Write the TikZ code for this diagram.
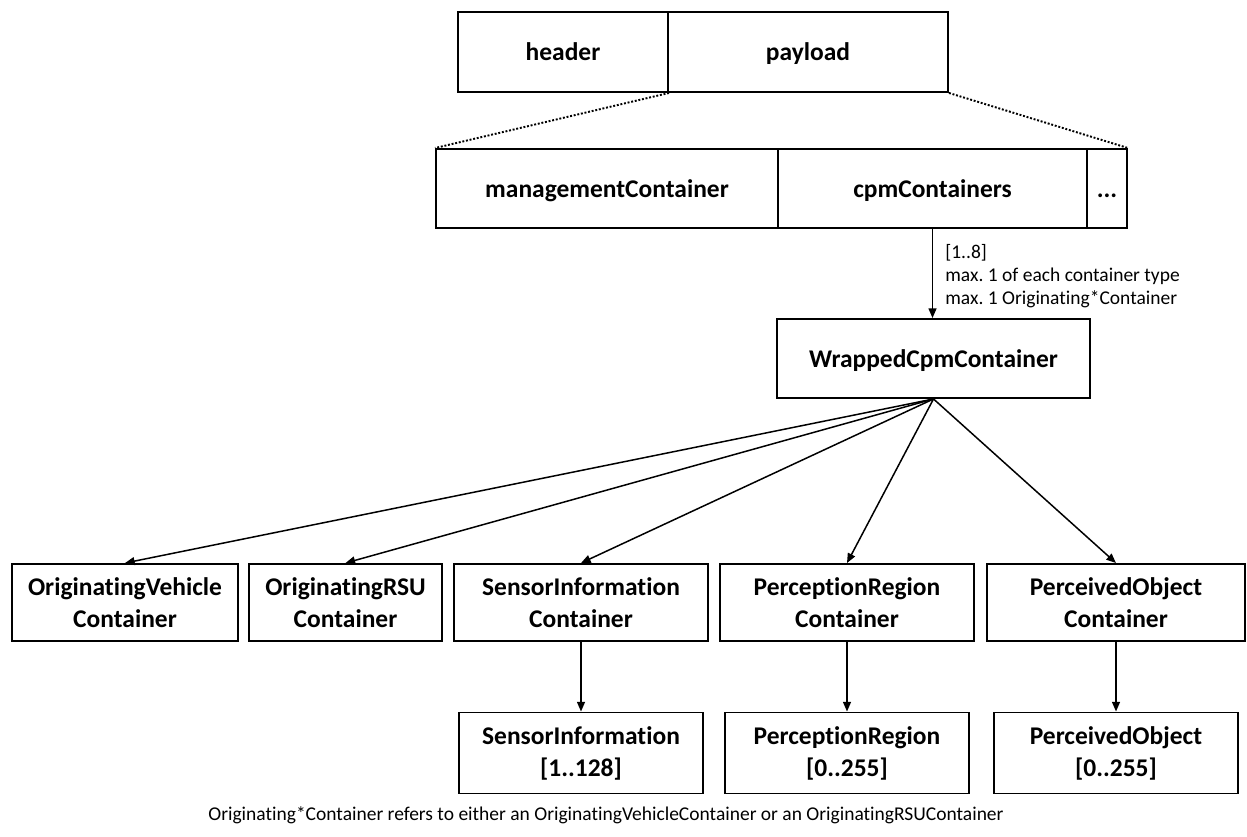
\documentclass[tikz,border=0pt]{standalone}
\usepackage{fontspec}
\setmainfont{Carlito}[Ligatures=NoCommon]
\usetikzlibrary{arrows.meta}

\begin{document}
\begin{tikzpicture}[x=0.02cm,y=-0.02cm,
        cell/.style={draw,line width=1.1pt,inner sep=0pt,align=center,
            font=\bfseries\fontsize{14.5}{18.2}\selectfont},
        single/.style={text height=13.3pt,text depth=3.2pt},
        note/.style={inner sep=0pt,align=left,font=\fontsize{11.1}{13.1}\selectfont},
        link/.style={line width=0.85pt,-{Triangle[length=5.5pt,width=4.5pt]}},
        zoomline/.style={line width=1.1pt,densely dotted}]
            \def\px{0.02cm}
            \frenchspacing
            \useasboundingbox (0,0) rectangle (1247,837);

            \node[cell,single,minimum width=210*\px,minimum height=80*\px] (header) at (563,52) {header};
            \node[cell,single,minimum width=280*\px,minimum height=80*\px] (payload) at (808,52) {payload};

            \node[cell,single,minimum width=342*\px,minimum height=79*\px] (mgmt) at (607,188.5) {managementContainer};
            \node[cell,single,minimum width=309*\px,minimum height=79*\px] (cpm) at (932.5,188.5) {cpmContainers};
            \node[cell,single,minimum width=40*\px,minimum height=79*\px] (more) at (1107,188.5) {...};

            \draw[zoomline] (header.south east) -- (mgmt.north west);
            \draw[zoomline] (payload.south east) -- (more.north east);

            \node[cell,single,minimum width=313*\px,minimum height=79*\px] (wrapped) at (933.5,358.5) {WrappedCpmContainer};
            \draw[link] (cpm.south) -- (cpm.south |- wrapped.north);
            \node[note,anchor=north west] (mult) at (945,244)
                {[1..8]\\max. 1 of each container type\\max. 1 Originating*Container};

            \node[cell,minimum width=226*\px,minimum height=77*\px] (ov) at (125,602.5) {OriginatingVehicle\\Container};
            \node[cell,minimum width=193*\px,minimum height=77*\px] (orsu) at (345.5,602.5) {OriginatingRSU\\Container};
            \node[cell,minimum width=254*\px,minimum height=77*\px] (sic) at (581,602.5) {SensorInformation\\Container};
            \node[cell,minimum width=254*\px,minimum height=77*\px] (prc) at (847,602.5) {PerceptionRegion\\Container};
            \node[cell,minimum width=258*\px,minimum height=77*\px] (poc) at (1116,602.5) {PerceivedObject\\Container};

            \foreach \n in {ov,orsu,sic,prc,poc}
                \draw[link] (wrapped.south) -- (\n.north);

            \node[cell,minimum width=244*\px,minimum height=81*\px] (si) at (581,753) {SensorInformation\\{}[1..128]};
            \node[cell,minimum width=244*\px,minimum height=81*\px] (pr) at (847,753) {PerceptionRegion\\{}[0..255]};
            \node[cell,minimum width=244*\px,minimum height=81*\px] (po) at (1116,753) {PerceivedObject\\{}[0..255]};

            \draw[link] (sic.south) -- (si.north);
            \draw[link] (prc.south) -- (pr.north);
            \draw[link] (poc.south) -- (po.north);

            \node[note] (caption) at (606,815)
                {Originating*Container refers to either an OriginatingVehicleContainer or an OriginatingRSUContainer};
        \end{tikzpicture}
\end{document}
